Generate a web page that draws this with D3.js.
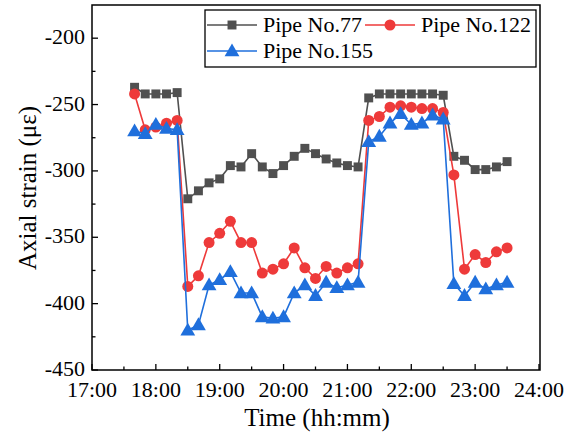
<!DOCTYPE html>
<html><head><meta charset="utf-8">
<script src="https://cdn.jsdelivr.net/npm/d3@7"></script>
<style>body{margin:0;background:#fff}svg{display:block}</style>
</head><body><svg id="c" width="569" height="434" font-family="'Liberation Serif', 'Times New Roman', 'DejaVu Serif', serif"></svg>
<script>
const times = ["17:40","17:50","18:00","18:10","18:20",
 "18:30","18:40","18:50","19:00","19:10","19:20","19:30","19:40","19:50","20:00","20:10","20:20","20:30","20:40","20:50","21:00","21:10",
 "21:20","21:30","21:40","21:50","22:00","22:10","22:20","22:30",
 "22:40","22:50","23:00","23:10","23:20","23:30"];
const pipe77 = [-237,-242,-242,-242,-241,
 -321,-315,-309,-306,-296,-297,-287,-297,-302,-296,-289,-283,-287,-291,-294,-296,-297,
 -245,-242,-242,-242,-242,-242,-242,-243,
 -289,-292,-299,-299,-297,-293];
const pipe122 = [-242,-269,-267,-264,-262,
 -387,-379,-354,-347,-338,-354,-354,-377,-374,-370,-358,-373,-381,-372,-377,-373,-370,
 -262,-259,-252,-251,-252,-253,-253,-256,
 -303,-374,-363,-369,-361,-358];
const pipe155 = [-270,-272,-265,-268,-269,
 -420,-416,-386,-382,-376,-392,-392,-410,-411,-410,-392,-386,-394,-384,-388,-386,-384,
 -278,-274,-264,-257,-265,-264,-258,-261,
 -385,-394,-384,-389,-386,-384];
const xTickLabels = ["17:00","18:00","19:00","20:00","21:00","22:00","23:00","24:00"];
const yTicks = [-450,-400,-350,-300,-250,-200];
const seriesNames = ["Pipe No.77","Pipe No.122","Pipe No.155"];
const colors = ["#505050","#ee3a3a","#1f6fdc"];
const symbols = [d3.symbolSquare, d3.symbolCircle, d3.symbolTriangle];
const symSizes = [80, 95, 95];

const FONT = "'Liberation Serif', 'Times New Roman', 'DejaVu Serif', serif";
const svg = d3.select("#c");
const L=92,R=539,T=5,B=370;
const toH = s => { const [h,m]=s.split(":").map(Number); return h+m/60; };
const x = d3.scaleLinear().domain([17,24]).range([L,R]);
const y = d3.scaleLinear().domain([-450,-175]).range([B,T]);

// frame
svg.append("rect").attr("x",L).attr("y",T).attr("width",R+1-L).attr("height",B-T)
  .attr("fill","none").attr("stroke","#000").attr("stroke-width",1.5);

// x ticks inward
const xMajor = xTickLabels.map(toH);
const xMinor = d3.range(17.5,24,1);
const gx = svg.append("g");
gx.selectAll("line.ma").data(xMajor).join("line").attr("x1",d=>x(d)).attr("x2",d=>x(d)).attr("y1",B).attr("y2",B-6).attr("stroke","#000").attr("stroke-width",1.3);
gx.selectAll("line.mi").data(xMinor).join("line").attr("x1",d=>x(d)).attr("x2",d=>x(d)).attr("y1",B).attr("y2",B-3.5).attr("stroke","#000").attr("stroke-width",1.3);
gx.selectAll("text").data(xTickLabels).join("text").attr("x",d=>x(toH(d))).attr("y",397)
  .attr("text-anchor","middle").attr("font-family",FONT).attr("font-size",22).text(d=>d);

// y ticks inward
const yMinor = d3.range(-425,-175,50);
const gy = svg.append("g");
gy.selectAll("line.ma").data(yTicks).join("line").attr("x1",L).attr("x2",L+6).attr("y1",d=>y(d)).attr("y2",d=>y(d)).attr("stroke","#000").attr("stroke-width",1.3);
gy.selectAll("line.mi").data(yMinor).join("line").attr("x1",L).attr("x2",L+3.5).attr("y1",d=>y(d)).attr("y2",d=>y(d)).attr("stroke","#000").attr("stroke-width",1.3);
gy.selectAll("text").data(yTicks).join("text").attr("x",85).attr("y",d=>y(d)+6)
  .attr("text-anchor","end").attr("font-family",FONT).attr("font-size",22).text(d=>d);

// axis titles
svg.append("text").attr("x",317).attr("y",426).attr("text-anchor","middle").attr("font-family",FONT).attr("font-size",25).text("Time (hh:mm)");
svg.append("text").attr("transform","translate(36,188) rotate(-90)").attr("text-anchor","middle").attr("font-family",FONT).attr("font-size",25).text("Axial strain (με)");

// series
const all = [pipe77,pipe122,pipe155];
const line = d3.line().x((d,i)=>x(toH(times[i]))).y(d=>y(d));
all.forEach((vals,k)=>{
  const g = svg.append("g");
  g.append("path").datum(vals).attr("d",line).attr("fill","none").attr("stroke",colors[k]).attr("stroke-width",1.6);
  g.selectAll("path.m").data(vals).join("path").attr("class","m")
    .attr("transform",(d,i)=>`translate(${x(toH(times[i]))},${y(d)+(k===2?1:0)})`)
    .attr("d",d3.symbol().type(symbols[k]).size(symSizes[k])).attr("fill",colors[k]);
});

// legend
const lg = svg.append("g");
lg.append("rect").attr("x",205).attr("y",10).attr("width",331).attr("height",57).attr("fill","#fff").attr("stroke","#000").attr("stroke-width",1.3);
const lpos = [[207,25],[365,25],[207,51]];
lpos.forEach((p,k)=>{
  lg.append("line").attr("x1",p[0]).attr("x2",p[0]+50).attr("y1",p[1]).attr("y2",p[1]).attr("stroke",colors[k]).attr("stroke-width",1.6);
  lg.append("path").attr("transform",`translate(${p[0]+25},${p[1]+(k===2?1:0)})`).attr("d",d3.symbol().type(symbols[k]).size(symSizes[k])).attr("fill",colors[k]);
  lg.append("text").attr("x",p[0]+56).attr("y",p[1]+7).attr("font-family",FONT).attr("font-size",22).text(seriesNames[k]);
});
</script></body></html>
